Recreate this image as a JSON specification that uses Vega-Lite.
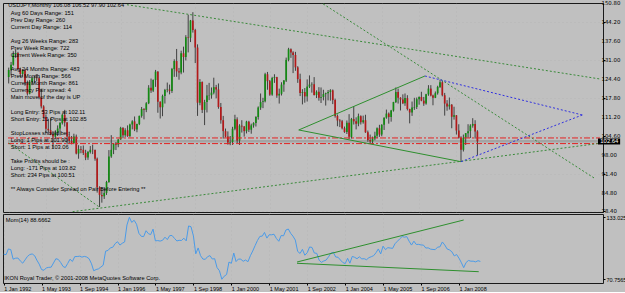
{
"$schema": "https://vega.github.io/schema/vega-lite/v6.json",
"background": "#c0c0c0",
"padding": {"left": 1, "top": 0, "right": 0, "bottom": 0},
"spacing": 2,
"bounds": "flush",
"config": {
  "font": "Liberation Sans",
  "view": {"stroke": "#1a1a1a", "strokeWidth": 1, "fill": "#c0c0c0"},
  "axis": {"labelColor": "#000", "tickColor": "#000", "gridColor": "#a0a0a0", "gridDash": [1, 3], "gridOpacity": 0.35, "labelFont": "Liberation Sans", "labelOverlap": false, "labelFlush": false, "labelBound": false}
},
"datasets": {
  "bars": [
{"d":"1992-01-01","o":125.0,"h":128.3,"l":122.8,"c":127.5,"m":95.9},
{"d":"1992-02-01","o":127.5,"h":130.3,"l":125.6,"c":129.3,"m":95.5},
{"d":"1992-03-01","o":129.3,"h":134.0,"l":129.0,"c":133.0,"m":101.2},
{"d":"1992-04-01","o":133.0,"h":134.6,"l":131.7,"c":133.4,"m":100.5},
{"d":"1992-05-01","o":133.4,"h":133.8,"l":127.5,"c":127.8,"m":90.9},
{"d":"1992-06-01","o":127.8,"h":128.3,"l":125.0,"c":126.1,"m":91.9},
{"d":"1992-07-01","o":126.1,"h":127.8,"l":124.9,"c":127.4,"m":92.1},
{"d":"1992-08-01","o":127.4,"h":127.8,"l":122.0,"c":123.0,"m":89.2},
{"d":"1992-09-01","o":123.0,"h":123.8,"l":118.6,"c":119.3,"m":86.9},
{"d":"1992-10-01","o":119.3,"h":124.0,"l":119.0,"c":123.4,"m":90.2},
{"d":"1992-11-01","o":123.4,"h":125.0,"l":122.2,"c":124.6,"m":93.7},
{"d":"1992-12-01","o":124.6,"h":125.4,"l":122.9,"c":124.8,"m":95.6},
{"d":"1993-01-01","o":124.8,"h":126.0,"l":123.5,"c":124.6,"m":96.2},
{"d":"1993-02-01","o":124.6,"h":125.1,"l":117.3,"c":117.9,"m":94.4},
{"d":"1993-03-01","o":117.9,"h":121.0,"l":114.1,"c":114.8,"m":90.0},
{"d":"1993-04-01","o":114.8,"h":115.2,"l":110.5,"c":111.1,"m":85.9},
{"d":"1993-05-01","o":111.1,"h":112.0,"l":105.5,"c":107.0,"m":80.5},
{"d":"1993-06-01","o":107.0,"h":110.5,"l":105.7,"c":106.5,"m":79.8},
{"d":"1993-07-01","o":106.5,"h":110.7,"l":104.8,"c":105.0,"m":82.2},
{"d":"1993-08-01","o":105.0,"h":106.2,"l":100.4,"c":104.3,"m":82.7},
{"d":"1993-09-01","o":104.3,"h":106.5,"l":103.7,"c":105.6,"m":82.9},
{"d":"1993-10-01","o":105.6,"h":108.2,"l":104.5,"c":107.1,"m":87.1},
{"d":"1993-11-01","o":107.1,"h":109.4,"l":104.7,"c":109.0,"m":91.4},
{"d":"1993-12-01","o":109.0,"h":112.2,"l":108.5,"c":111.9,"m":90.7},
{"d":"1994-01-01","o":111.9,"h":113.6,"l":107.8,"c":109.2,"m":87.6},
{"d":"1994-02-01","o":109.2,"h":109.4,"l":101.6,"c":104.3,"m":83.6},
{"d":"1994-03-01","o":104.3,"h":106.0,"l":101.8,"c":102.8,"m":82.5},
{"d":"1994-04-01","o":102.8,"h":104.5,"l":101.6,"c":102.1,"m":86.6},
{"d":"1994-05-01","o":102.1,"h":105.3,"l":101.7,"c":104.3,"m":90.9},
{"d":"1994-06-01","o":104.3,"h":105.0,"l":98.1,"c":98.4,"m":88.6},
{"d":"1994-07-01","o":98.4,"h":101.3,"l":96.6,"c":100.0,"m":93.5},
{"d":"1994-08-01","o":100.0,"h":101.0,"l":98.5,"c":99.7,"m":93.6},
{"d":"1994-09-01","o":99.7,"h":101.2,"l":97.9,"c":98.6,"m":93.9},
{"d":"1994-10-01","o":98.6,"h":99.7,"l":96.1,"c":97.0,"m":93.0},
{"d":"1994-11-01","o":97.0,"h":99.3,"l":96.2,"c":98.9,"m":93.7},
{"d":"1994-12-01","o":98.9,"h":101.0,"l":98.4,"c":99.7,"m":93.1},
{"d":"1995-01-01","o":99.7,"h":101.5,"l":98.2,"c":99.6,"m":91.4},
{"d":"1995-02-01","o":99.6,"h":99.8,"l":95.9,"c":96.6,"m":86.3},
{"d":"1995-03-01","o":96.6,"h":97.0,"l":84.8,"c":86.6,"m":79.3},
{"d":"1995-04-01","o":86.6,"h":87.0,"l":79.8,"c":84.0,"m":80.5},
{"d":"1995-05-01","o":84.0,"h":86.6,"l":81.3,"c":83.5,"m":81.2},
{"d":"1995-06-01","o":83.5,"h":86.7,"l":82.6,"c":84.7,"m":83.0},
{"d":"1995-07-01","o":84.7,"h":88.9,"l":84.0,"c":88.5,"m":84.9},
{"d":"1995-08-01","o":88.5,"h":99.6,"l":88.2,"c":97.4,"m":99.0},
{"d":"1995-09-01","o":97.4,"h":104.8,"l":96.9,"c":99.7,"m":99.7},
{"d":"1995-10-01","o":99.7,"h":102.0,"l":98.2,"c":101.9,"m":102.3},
{"d":"1995-11-01","o":101.9,"h":102.4,"l":99.6,"c":101.5,"m":102.9},
{"d":"1995-12-01","o":101.5,"h":103.5,"l":100.6,"c":103.3,"m":106.5},
{"d":"1996-01-01","o":103.3,"h":107.7,"l":103.2,"c":107.3,"m":108.5},
{"d":"1996-02-01","o":107.3,"h":107.6,"l":103.7,"c":104.8,"m":105.1},
{"d":"1996-03-01","o":104.8,"h":107.2,"l":104.2,"c":106.5,"m":106.9},
{"d":"1996-04-01","o":106.5,"h":108.2,"l":104.2,"c":104.5,"m":108.2},
{"d":"1996-05-01","o":104.5,"h":108.8,"l":104.1,"c":108.5,"m":125.3},
{"d":"1996-06-01","o":108.5,"h":110.0,"l":106.8,"c":109.6,"m":133.0},
{"d":"1996-07-01","o":109.6,"h":111.3,"l":106.2,"c":106.8,"m":127.9},
{"d":"1996-08-01","o":106.8,"h":108.8,"l":105.8,"c":108.7,"m":130.0},
{"d":"1996-09-01","o":108.7,"h":111.6,"l":108.3,"c":111.5,"m":126.0},
{"d":"1996-10-01","o":111.5,"h":114.6,"l":110.9,"c":113.9,"m":116.9},
{"d":"1996-11-01","o":113.9,"h":114.2,"l":110.3,"c":113.6,"m":113.9},
{"d":"1996-12-01","o":113.6,"h":116.3,"l":112.8,"c":115.9,"m":113.6},
{"d":"1997-01-01","o":115.9,"h":122.2,"l":115.6,"c":121.3,"m":119.5},
{"d":"1997-02-01","o":121.3,"h":124.5,"l":119.5,"c":120.3,"m":116.5},
{"d":"1997-03-01","o":120.3,"h":124.2,"l":119.8,"c":124.0,"m":115.6},
{"d":"1997-04-01","o":124.0,"h":127.5,"l":121.6,"c":126.9,"m":121.1},
{"d":"1997-05-01","o":126.9,"h":127.1,"l":112.6,"c":116.4,"m":109.3},
{"d":"1997-06-01","o":116.4,"h":116.6,"l":110.6,"c":114.5,"m":109.6},
{"d":"1997-07-01","o":114.5,"h":118.9,"l":111.4,"c":118.4,"m":109.1},
{"d":"1997-08-01","o":118.4,"h":120.9,"l":115.8,"c":120.5,"m":109.9},
{"d":"1997-09-01","o":120.5,"h":123.1,"l":119.7,"c":120.7,"m":113.0},
{"d":"1997-10-01","o":120.7,"h":122.4,"l":119.0,"c":120.2,"m":110.6},
{"d":"1997-11-01","o":120.2,"h":128.2,"l":119.5,"c":127.8,"m":114.6},
{"d":"1997-12-01","o":127.8,"h":131.2,"l":125.1,"c":130.6,"m":114.7},
{"d":"1998-01-01","o":130.6,"h":134.8,"l":125.1,"c":127.0,"m":111.8},
{"d":"1998-02-01","o":127.0,"h":128.2,"l":124.1,"c":126.6,"m":109.2},
{"d":"1998-03-01","o":126.6,"h":134.2,"l":126.0,"c":133.3,"m":109.9},
{"d":"1998-04-01","o":133.3,"h":135.6,"l":126.6,"c":132.0,"m":109.7},
{"d":"1998-05-01","o":132.0,"h":139.6,"l":130.8,"c":138.9,"m":112.0},
{"d":"1998-06-01","o":138.9,"h":146.7,"l":133.6,"c":138.7,"m":109.3},
{"d":"1998-07-01","o":138.7,"h":144.9,"l":137.2,"c":144.7,"m":124.3},
{"d":"1998-08-01","o":144.7,"h":147.6,"l":140.5,"c":141.4,"m":123.5},
{"d":"1998-09-01","o":141.4,"h":141.8,"l":129.9,"c":135.3,"m":114.3},
{"d":"1998-10-01","o":135.3,"h":136.4,"l":111.5,"c":116.1,"m":96.3},
{"d":"1998-11-01","o":116.1,"h":124.3,"l":115.2,"c":123.3,"m":102.2},
{"d":"1998-12-01","o":123.3,"h":123.5,"l":112.5,"c":113.6,"m":94.5},
{"d":"1999-01-01","o":113.6,"h":117.1,"l":108.3,"c":116.3,"m":91.0},
{"d":"1999-02-01","o":116.3,"h":122.3,"l":112.7,"c":118.6,"m":90.8},
{"d":"1999-03-01","o":118.6,"h":123.0,"l":117.0,"c":118.7,"m":93.4},
{"d":"1999-04-01","o":118.7,"h":121.4,"l":117.5,"c":119.6,"m":94.5},
{"d":"1999-05-01","o":119.6,"h":124.8,"l":119.0,"c":121.5,"m":91.1},
{"d":"1999-06-01","o":121.5,"h":122.3,"l":117.6,"c":120.7,"m":91.4},
{"d":"1999-07-01","o":120.7,"h":122.8,"l":114.0,"c":114.6,"m":82.5},
{"d":"1999-08-01","o":114.6,"h":116.0,"l":108.8,"c":110.0,"m":79.3},
{"d":"1999-09-01","o":110.0,"h":111.5,"l":103.6,"c":106.2,"m":70.76},
{"d":"1999-10-01","o":106.2,"h":107.1,"l":104.0,"c":104.3,"m":73.8},
{"d":"1999-11-01","o":104.3,"h":106.1,"l":101.5,"c":102.2,"m":75.5},
{"d":"1999-12-01","o":102.2,"h":104.5,"l":101.3,"c":102.4,"m":88.0},
{"d":"2000-01-01","o":102.4,"h":107.7,"l":101.4,"c":107.0,"m":86.8},
{"d":"2000-02-01","o":107.0,"h":111.9,"l":106.5,"c":110.3,"m":97.1},
{"d":"2000-03-01","o":110.3,"h":111.0,"l":102.0,"c":102.9,"m":88.5},
{"d":"2000-04-01","o":102.9,"h":108.6,"l":101.4,"c":108.1,"m":91.1},
{"d":"2000-05-01","o":108.1,"h":110.0,"l":105.7,"c":107.8,"m":90.9},
{"d":"2000-06-01","o":107.8,"h":108.0,"l":104.3,"c":106.2,"m":88.8},
{"d":"2000-07-01","o":106.2,"h":109.8,"l":105.4,"c":109.5,"m":90.1},
{"d":"2000-08-01","o":109.5,"h":109.8,"l":105.9,"c":106.7,"m":88.4},
{"d":"2000-09-01","o":106.7,"h":108.8,"l":105.3,"c":108.2,"m":94.4},
{"d":"2000-10-01","o":108.2,"h":109.3,"l":107.4,"c":109.0,"m":99.1},
{"d":"2000-11-01","o":109.0,"h":111.4,"l":107.8,"c":111.1,"m":104.6},
{"d":"2000-12-01","o":111.1,"h":114.8,"l":110.2,"c":114.4,"m":109.7},
{"d":"2001-01-01","o":114.4,"h":119.3,"l":113.6,"c":116.3,"m":113.8},
{"d":"2001-02-01","o":116.3,"h":117.8,"l":114.2,"c":116.6,"m":114.1},
{"d":"2001-03-01","o":116.6,"h":126.5,"l":116.2,"c":126.0,"m":117.8},
{"d":"2001-04-01","o":126.0,"h":126.8,"l":120.6,"c":123.6,"m":112.1},
{"d":"2001-05-01","o":123.6,"h":124.0,"l":118.5,"c":118.9,"m":115.5},
{"d":"2001-06-01","o":118.9,"h":125.1,"l":118.5,"c":124.7,"m":115.4},
{"d":"2001-07-01","o":124.7,"h":126.0,"l":123.0,"c":125.0,"m":116.0},
{"d":"2001-08-01","o":125.0,"h":125.1,"l":117.8,"c":118.6,"m":111.7},
{"d":"2001-09-01","o":118.6,"h":121.0,"l":115.8,"c":119.2,"m":108.9},
{"d":"2001-10-01","o":119.2,"h":123.2,"l":118.6,"c":122.4,"m":114.7},
{"d":"2001-11-01","o":122.4,"h":124.0,"l":119.9,"c":123.8,"m":114.4},
{"d":"2001-12-01","o":123.8,"h":131.8,"l":123.3,"c":131.0,"m":120.2},
{"d":"2002-01-01","o":131.0,"h":135.2,"l":130.5,"c":134.7,"m":121.2},
{"d":"2002-02-01","o":134.7,"h":135.0,"l":131.7,"c":133.6,"m":116.8},
{"d":"2002-03-01","o":133.6,"h":134.0,"l":126.4,"c":132.7,"m":114.1},
{"d":"2002-04-01","o":132.7,"h":133.8,"l":127.2,"c":128.4,"m":110.1},
{"d":"2002-05-01","o":128.4,"h":128.8,"l":123.0,"c":124.3,"m":98.7},
{"d":"2002-06-01","o":124.3,"h":126.2,"l":118.4,"c":119.5,"m":96.7},
{"d":"2002-07-01","o":119.5,"h":120.8,"l":115.5,"c":119.8,"m":100.8},
{"d":"2002-08-01","o":119.8,"h":121.2,"l":116.1,"c":118.3,"m":94.9},
{"d":"2002-09-01","o":118.3,"h":124.2,"l":116.5,"c":121.7,"m":97.4},
{"d":"2002-10-01","o":121.7,"h":125.6,"l":121.2,"c":122.4,"m":103.2},
{"d":"2002-11-01","o":122.4,"h":123.2,"l":119.6,"c":122.5,"m":102.7},
{"d":"2002-12-01","o":122.5,"h":125.0,"l":118.6,"c":118.8,"m":97.1},
{"d":"2003-01-01","o":118.8,"h":120.4,"l":117.7,"c":119.9,"m":96.8},
{"d":"2003-02-01","o":119.9,"h":121.5,"l":116.8,"c":117.8,"m":89.9},
{"d":"2003-03-01","o":117.8,"h":121.4,"l":116.0,"c":118.1,"m":87.7},
{"d":"2003-04-01","o":118.1,"h":120.6,"l":116.9,"c":119.1,"m":89.1},
{"d":"2003-05-01","o":119.1,"h":119.6,"l":115.1,"c":119.4,"m":90.0},
{"d":"2003-06-01","o":119.4,"h":120.5,"l":116.9,"c":119.8,"m":93.3},
{"d":"2003-07-01","o":119.8,"h":120.8,"l":116.8,"c":120.4,"m":96.9},
{"d":"2003-08-01","o":120.4,"h":120.7,"l":115.6,"c":117.0,"m":97.9},
{"d":"2003-09-01","o":117.0,"h":117.5,"l":110.9,"c":111.5,"m":93.1},
{"d":"2003-10-01","o":111.5,"h":112.0,"l":107.9,"c":109.9,"m":92.9},
{"d":"2003-11-01","o":109.9,"h":110.4,"l":107.6,"c":109.6,"m":90.1},
{"d":"2003-12-01","o":109.6,"h":110.1,"l":106.8,"c":107.2,"m":87.6},
{"d":"2004-01-01","o":107.2,"h":107.8,"l":105.6,"c":105.9,"m":86.5},
{"d":"2004-02-01","o":105.9,"h":109.9,"l":105.2,"c":109.1,"m":91.8},
{"d":"2004-03-01","o":109.1,"h":112.1,"l":103.4,"c":104.2,"m":86.9},
{"d":"2004-04-01","o":104.2,"h":110.8,"l":103.6,"c":110.4,"m":93.7},
{"d":"2004-05-01","o":110.4,"h":114.9,"l":108.5,"c":109.6,"m":92.8},
{"d":"2004-06-01","o":109.6,"h":111.0,"l":106.8,"c":108.8,"m":91.4},
{"d":"2004-07-01","o":108.8,"h":112.3,"l":107.9,"c":111.4,"m":93.3},
{"d":"2004-08-01","o":111.4,"h":111.7,"l":108.5,"c":109.3,"m":91.2},
{"d":"2004-09-01","o":109.3,"h":111.6,"l":108.8,"c":110.0,"m":91.4},
{"d":"2004-10-01","o":110.0,"h":111.9,"l":105.6,"c":105.8,"m":90.4},
{"d":"2004-11-01","o":105.8,"h":106.4,"l":102.5,"c":103.1,"m":92.5},
{"d":"2004-12-01","o":103.1,"h":105.0,"l":101.8,"c":102.6,"m":93.4},
{"d":"2005-01-01","o":102.6,"h":104.3,"l":101.7,"c":103.6,"m":94.5},
{"d":"2005-02-01","o":103.6,"h":106.0,"l":103.0,"c":104.6,"m":97.6},
{"d":"2005-03-01","o":104.6,"h":107.5,"l":103.8,"c":107.2,"m":101.2},
{"d":"2005-04-01","o":107.2,"h":108.4,"l":104.2,"c":105.0,"m":96.2},
{"d":"2005-05-01","o":105.0,"h":108.6,"l":104.4,"c":108.4,"m":104.0},
{"d":"2005-06-01","o":108.4,"h":111.0,"l":106.6,"c":110.9,"m":100.5},
{"d":"2005-07-01","o":110.9,"h":113.7,"l":110.5,"c":112.3,"m":102.5},
{"d":"2005-08-01","o":112.3,"h":112.7,"l":108.8,"c":111.1,"m":102.1},
{"d":"2005-09-01","o":111.1,"h":113.6,"l":109.5,"c":113.4,"m":101.8},
{"d":"2005-10-01","o":113.4,"h":116.4,"l":113.0,"c":116.3,"m":106.4},
{"d":"2005-11-01","o":116.3,"h":121.4,"l":116.0,"c":119.8,"m":108.9},
{"d":"2005-12-01","o":119.8,"h":121.0,"l":115.8,"c":117.8,"m":111.3},
{"d":"2006-01-01","o":117.8,"h":118.0,"l":113.4,"c":117.2,"m":113.7},
{"d":"2006-02-01","o":117.2,"h":119.0,"l":115.6,"c":115.9,"m":113.0},
{"d":"2006-03-01","o":115.9,"h":119.3,"l":115.0,"c":117.7,"m":113.6},
{"d":"2006-04-01","o":117.7,"h":118.7,"l":113.4,"c":113.9,"m":108.9},
{"d":"2006-05-01","o":113.9,"h":114.0,"l":108.9,"c":112.7,"m":105.1},
{"d":"2006-06-01","o":112.7,"h":116.5,"l":111.5,"c":114.4,"m":109.0},
{"d":"2006-07-01","o":114.4,"h":117.8,"l":113.6,"c":114.6,"m":105.7},
{"d":"2006-08-01","o":114.6,"h":117.9,"l":113.9,"c":117.3,"m":105.8},
{"d":"2006-09-01","o":117.3,"h":118.3,"l":115.4,"c":118.1,"m":105.2},
{"d":"2006-10-01","o":118.1,"h":119.9,"l":116.6,"c":116.8,"m":105.1},
{"d":"2006-11-01","o":116.8,"h":118.1,"l":115.0,"c":115.8,"m":102.1},
{"d":"2006-12-01","o":115.8,"h":119.2,"l":115.4,"c":119.0,"m":102.3},
{"d":"2007-01-01","o":119.0,"h":122.2,"l":118.5,"c":121.0,"m":101.0},
{"d":"2007-02-01","o":121.0,"h":122.2,"l":118.3,"c":118.6,"m":100.7},
{"d":"2007-03-01","o":118.6,"h":118.9,"l":115.2,"c":117.8,"m":100.5},
{"d":"2007-04-01","o":117.8,"h":120.0,"l":117.7,"c":119.4,"m":103.0},
{"d":"2007-05-01","o":119.4,"h":122.0,"l":118.9,"c":121.6,"m":103.3},
{"d":"2007-06-01","o":121.6,"h":124.1,"l":121.2,"c":123.2,"m":108.2},
{"d":"2007-07-01","o":123.2,"h":123.7,"l":118.3,"c":118.7,"m":105.3},
{"d":"2007-08-01","o":118.7,"h":119.5,"l":111.6,"c":115.8,"m":101.2},
{"d":"2007-09-01","o":115.8,"h":117.0,"l":113.3,"c":114.8,"m":100.2},
{"d":"2007-10-01","o":114.8,"h":117.9,"l":113.7,"c":115.4,"m":98.4},
{"d":"2007-11-01","o":115.4,"h":115.6,"l":107.2,"c":111.2,"m":94.2},
{"d":"2007-12-01","o":111.2,"h":114.7,"l":110.2,"c":111.7,"m":95.6},
{"d":"2008-01-01","o":111.7,"h":111.8,"l":105.0,"c":106.4,"m":91.9},
{"d":"2008-02-01","o":106.4,"h":108.6,"l":103.6,"c":103.9,"m":87.3},
{"d":"2008-03-01","o":103.9,"h":104.4,"l":95.7,"c":99.7,"m":82.4},
{"d":"2008-04-01","o":99.7,"h":105.0,"l":99.1,"c":103.9,"m":87.6},
{"d":"2008-05-01","o":103.9,"h":105.5,"l":101.4,"c":105.5,"m":89.6},
{"d":"2008-06-01","o":105.5,"h":108.6,"l":103.9,"c":106.2,"m":88.9},
{"d":"2008-07-01","o":106.2,"h":108.6,"l":103.8,"c":108.1,"m":88.9},
{"d":"2008-08-01","o":108.1,"h":110.7,"l":107.4,"c":108.7,"m":88.2},
{"d":"2008-09-01","o":108.7,"h":110.0,"l":103.6,"c":106.1,"m":89.4},
{"d":"2008-10-01","o":106.08,"h":106.52,"l":97.9,"c":102.64,"m":88.67}
  ],
  "bid": [{"id":"bid","d":"1991-12-23","p":102.64},{"id":"bid","d":"2013-02-17","p":102.64}],
  "red": [
    {"id":"tp","d":"1991-12-23","p":103.82},{"id":"tp","d":"2013-02-17","p":103.82},
    {"id":"sl","d":"1991-12-23","p":101.86},{"id":"sl","d":"2013-02-17","p":101.86}
  ],
  "dots": [
    {"id":"a","d":"1996-03-24","p":150.21},{"id":"a","d":"2013-02-17","p":124.35},
    {"id":"b","d":"2003-02-12","p":151.25},{"id":"b","d":"2012-12-02","p":89.89},
    {"id":"c","d":"1994-04-14","p":78.16},{"id":"c","d":"2013-02-17","p":101.97},
    {"id":"e","d":"1992-01-01","p":102.07},{"id":"e","d":"1995-04-06","p":79.62}
  ],
  "solid": [
    {"id":"u","d":"2002-05-14","p":106.6},{"id":"u","d":"2006-11-16","p":125.39},
    {"id":"w","d":"2002-05-14","p":106.6},{"id":"w","d":"2008-03-01","p":95.56}
  ],
  "blue": [
    {"id":"u","d":"2006-11-16","p":125.39},{"id":"u","d":"2012-07-01","p":111.82},
    {"id":"w","d":"2008-03-01","p":95.56},{"id":"w","d":"2012-07-01","p":111.82}
  ],
  "ylab": [
    {"d":"2013-03-08","p":150.8,"t":"150.80"},
    {"d":"2013-03-08","p":144.2,"t":"144.20"},
    {"d":"2013-03-08","p":137.6,"t":"137.60"},
    {"d":"2013-03-08","p":131.0,"t":"131.00"},
    {"d":"2013-03-08","p":124.4,"t":"124.40"},
    {"d":"2013-03-08","p":117.8,"t":"117.80"},
    {"d":"2013-03-08","p":111.2,"t":"111.20"},
    {"d":"2013-03-08","p":104.6,"t":"104.60"},
    {"d":"2013-03-08","p":98.0,"t":"98.00"},
    {"d":"2013-03-08","p":91.4,"t":"91.40"},
    {"d":"2013-03-08","p":84.8,"t":"84.80"},
    {"d":"2013-03-08","p":78.4,"t":"78.40"}
  ],
  "notes": [
    {"d":"1991-12-26","p":149.93,"t":"USDJPY,Monthly  106.08 106.52 97.90 102.64"},
    {"d":"1992-01-28","p":147.47,"t":"Avg 60 Days Range: 151"},
    {"d":"1992-01-28","p":145.01,"t":"Prev Day Range: 260"},
    {"d":"1992-01-28","p":142.55,"t":"Current Day Range: 114"},
    {"d":"1992-01-28","p":137.63,"t":"Avg 26 Weeks Range: 283"},
    {"d":"1992-01-28","p":135.16,"t":"Prev Week Range: 722"},
    {"d":"1992-01-28","p":132.70,"t":"Current Week Range: 350"},
    {"d":"1992-01-28","p":127.78,"t":"Avg 24 Months Range: 483"},
    {"d":"1992-01-28","p":125.32,"t":"Prev Month Range: 566"},
    {"d":"1992-01-28","p":122.86,"t":"Current Month Range: 861"},
    {"d":"1992-01-28","p":120.40,"t":"Currency Pair spread: 4"},
    {"d":"1992-01-28","p":117.94,"t":"Main move of the day is UP"},
    {"d":"1992-01-28","p":113.02,"t":"Long Entry: 53 Pips at 102.11"},
    {"d":"1992-01-28","p":110.56,"t":"Short Entry: 21 Pips at 102.85"},
    {"d":"1992-01-28","p":105.64,"t":"StopLosses should be :"},
    {"d":"1992-01-28","p":103.17,"t":"Long: 1 Pips at 101.90"},
    {"d":"1992-01-28","p":100.71,"t":"Short: 1 Pips at 103.06"},
    {"d":"1992-01-28","p":95.79,"t":"Take Profits should be :"},
    {"d":"1992-01-28","p":93.33,"t":"Long: -171 Pips at 103.82"},
    {"d":"1992-01-28","p":90.87,"t":"Short: 234 Pips at 100.51"},
    {"d":"1992-01-28","p":85.95,"t":"** Always Consider Spread on Pair Before Entering **"}
  ],
  "box": [{"d":"2013-01-22","d2":"2013-11-07","p":103.64,"p2":101.55,"dt":"2013-06-19","pt":102.64,"t":"102.64"}],
  "mlines": [
    {"id":"u","d":"2002-04-23","v":88.09},{"id":"u","d":"2008-03-01","v":130.27},
    {"id":"w","d":"2002-04-23","v":86.79},{"id":"w","d":"2008-09-10","v":78.35}
  ],
  "mnotes": [
    {"d":"1992-01-28","v":129.8,"t":"Mom(14) 88.6662"},
    {"d":"1992-01-07","v":72.3,"t":"IKON Royal Trader, © 2001-2008 MetaQuotes Software Corp."}
  ]
},
"vconcat": [
  {
    "width": 600,
    "height": 209,
    "layer": [
      {
        "data": {"name": "bid"},
        "mark": {"type": "line", "color": "#a4a4a4", "strokeWidth": 2.5, "clip": true},
        "encoding": {
          "x": {"field": "d", "type": "temporal", "title": null,
                "scale": {"type": "utc", "nice": false, "domain": [{"year":1991,"month":12,"date":23,"utc":true},{"year":2013,"month":1,"date":22,"utc":true}]},
                "axis": {"values": [{"year":1992,"month":1,"date":1,"utc":true},{"year":1993,"month":5,"date":1,"utc":true},{"year":1994,"month":9,"date":1,"utc":true},{"year":1996,"month":1,"date":1,"utc":true},{"year":1997,"month":5,"date":1,"utc":true},{"year":1998,"month":9,"date":1,"utc":true},{"year":2000,"month":1,"date":1,"utc":true},{"year":2001,"month":5,"date":1,"utc":true},{"year":2002,"month":9,"date":1,"utc":true},{"year":2004,"month":1,"date":1,"utc":true},{"year":2005,"month":5,"date":1,"utc":true},{"year":2006,"month":9,"date":1,"utc":true},{"year":2008,"month":1,"date":1,"utc":true}],
                         "labels": false, "ticks": false, "domain": false, "grid": true}},
          "y": {"field": "p", "type": "quantitative", "title": null,
                "scale": {"domain": [78.05, 150.8], "nice": false, "zero": false},
                "axis": {"orient": "right", "values": [150.8,144.2,137.6,131,124.4,117.8,111.2,104.6,98,91.4,84.8,78.4],
                         "grid": true, "domain": false, "tickSize": 2, "labels": false}},
          "detail": {"field": "id"}
        }
      },
      {
        "data": {"name": "bars"},
        "mark": {"type": "rule", "color": "#404040", "strokeWidth": 1},
        "encoding": {
          "x": {"field": "d", "type": "temporal", "title": null, "scale": {"type": "utc", "nice": false, "domain": [{"year":1991,"month":12,"date":23,"utc":true},{"year":2013,"month":1,"date":22,"utc":true}]}},
          "y": {"field": "l", "type": "quantitative", "title": null, "scale": {"domain": [78.05, 150.8], "nice": false, "zero": false}},
          "y2": {"field": "h"}
        }
      },
      {
        "data": {"name": "bars"},
        "mark": {"type": "bar", "width": 1.7},
        "encoding": {
          "x": {"field": "d", "type": "temporal", "title": null, "scale": {"type": "utc", "nice": false, "domain": [{"year":1991,"month":12,"date":23,"utc":true},{"year":2013,"month":1,"date":22,"utc":true}]}},
          "y": {"field": "o", "type": "quantitative", "title": null, "scale": {"domain": [78.05, 150.8], "nice": false, "zero": false}},
          "y2": {"field": "c"},
          "color": {"condition": {"test": "datum.c >= datum.o", "value": "#138a13"}, "value": "#b3191a"}
        }
      },
      {
        "data": {"name": "red"},
        "mark": {"type": "line", "color": "#e32222", "strokeWidth": 1, "strokeDash": [6, 2, 2, 2], "clip": true},
        "encoding": {
          "x": {"field": "d", "type": "temporal", "title": null, "scale": {"type": "utc", "nice": false, "domain": [{"year":1991,"month":12,"date":23,"utc":true},{"year":2013,"month":1,"date":22,"utc":true}]}},
          "y": {"field": "p", "type": "quantitative", "title": null, "scale": {"domain": [78.05, 150.8], "nice": false, "zero": false}},
          "detail": {"field": "id"}
        }
      },
      {
        "data": {"name": "dots"},
        "mark": {"type": "line", "color": "#3a8a3a", "strokeWidth": 1, "strokeDash": [2, 2], "clip": true},
        "encoding": {
          "x": {"field": "d", "type": "temporal", "title": null, "scale": {"type": "utc", "nice": false, "domain": [{"year":1991,"month":12,"date":23,"utc":true},{"year":2013,"month":1,"date":22,"utc":true}]}},
          "y": {"field": "p", "type": "quantitative", "title": null, "scale": {"domain": [78.05, 150.8], "nice": false, "zero": false}},
          "detail": {"field": "id"}
        }
      },
      {
        "data": {"name": "solid"},
        "mark": {"type": "line", "color": "#2e8f2e", "strokeWidth": 1, "clip": true},
        "encoding": {
          "x": {"field": "d", "type": "temporal", "title": null, "scale": {"type": "utc", "nice": false, "domain": [{"year":1991,"month":12,"date":23,"utc":true},{"year":2013,"month":1,"date":22,"utc":true}]}},
          "y": {"field": "p", "type": "quantitative", "title": null, "scale": {"domain": [78.05, 150.8], "nice": false, "zero": false}},
          "detail": {"field": "id"}
        }
      },
      {
        "data": {"name": "blue"},
        "mark": {"type": "line", "color": "#3030e0", "strokeWidth": 1, "strokeDash": [2, 2], "clip": true},
        "encoding": {
          "x": {"field": "d", "type": "temporal", "title": null, "scale": {"type": "utc", "nice": false, "domain": [{"year":1991,"month":12,"date":23,"utc":true},{"year":2013,"month":1,"date":22,"utc":true}]}},
          "y": {"field": "p", "type": "quantitative", "title": null, "scale": {"domain": [78.05, 150.8], "nice": false, "zero": false}},
          "detail": {"field": "id"}
        }
      },
      {
        "data": {"name": "notes"},
        "mark": {"type": "text", "align": "left", "baseline": "middle", "fontSize": 5.7, "color": "#000", "font": "Liberation Sans"},
        "encoding": {
          "x": {"field": "d", "type": "temporal", "title": null, "scale": {"type": "utc", "nice": false, "domain": [{"year":1991,"month":12,"date":23,"utc":true},{"year":2013,"month":1,"date":22,"utc":true}]}},
          "y": {"field": "p", "type": "quantitative", "title": null, "scale": {"domain": [78.05, 150.8], "nice": false, "zero": false}},
          "text": {"field": "t"}
        }
      },
      {
        "data": {"name": "ylab"},
        "mark": {"type": "text", "align": "left", "baseline": "middle", "fontSize": 5.4, "color": "#000", "font": "DejaVu Sans"},
        "encoding": {
          "x": {"field": "d", "type": "temporal", "title": null, "scale": {"type": "utc", "nice": false, "domain": [{"year":1991,"month":12,"date":23,"utc":true},{"year":2013,"month":1,"date":22,"utc":true}]}},
          "y": {"field": "p", "type": "quantitative", "title": null, "scale": {"domain": [78.05, 150.8], "nice": false, "zero": false}},
          "text": {"field": "t"}
        }
      },
      {
        "data": {"name": "box"},
        "mark": {"type": "rect", "color": "#000"},
        "encoding": {
          "x": {"field": "d", "type": "temporal", "title": null, "scale": {"type": "utc", "nice": false, "domain": [{"year":1991,"month":12,"date":23,"utc":true},{"year":2013,"month":1,"date":22,"utc":true}]}},
          "x2": {"field": "d2"},
          "y": {"field": "p", "type": "quantitative", "title": null, "scale": {"domain": [78.05, 150.8], "nice": false, "zero": false}},
          "y2": {"field": "p2"}
        }
      },
      {
        "data": {"name": "box"},
        "mark": {"type": "text", "align": "center", "baseline": "middle", "fontSize": 5.9, "color": "#ffffff"},
        "encoding": {
          "x": {"field": "dt", "type": "temporal", "title": null, "scale": {"type": "utc", "nice": false, "domain": [{"year":1991,"month":12,"date":23,"utc":true},{"year":2013,"month":1,"date":22,"utc":true}]}},
          "y": {"field": "pt", "type": "quantitative", "title": null, "scale": {"domain": [78.05, 150.8], "nice": false, "zero": false}},
          "text": {"field": "t"}
        }
      }
    ]
  },
  {
    "width": 600,
    "height": 69,
    "layer": [
      {
        "data": {"name": "bars"},
        "mark": {"type": "line", "color": "#4b9be8", "strokeWidth": 1},
        "encoding": {
          "x": {"field": "d", "type": "temporal", "title": null,
                "scale": {"type": "utc", "nice": false, "domain": [{"year":1991,"month":12,"date":23,"utc":true},{"year":2013,"month":1,"date":22,"utc":true}]},
                "axis": {"values": [{"year":1992,"month":1,"date":1,"utc":true},{"year":1993,"month":5,"date":1,"utc":true},{"year":1994,"month":9,"date":1,"utc":true},{"year":1996,"month":1,"date":1,"utc":true},{"year":1997,"month":5,"date":1,"utc":true},{"year":1998,"month":9,"date":1,"utc":true},{"year":2000,"month":1,"date":1,"utc":true},{"year":2001,"month":5,"date":1,"utc":true},{"year":2002,"month":9,"date":1,"utc":true},{"year":2004,"month":1,"date":1,"utc":true},{"year":2005,"month":5,"date":1,"utc":true},{"year":2006,"month":9,"date":1,"utc":true},{"year":2008,"month":1,"date":1,"utc":true}],
                         "format": "%-d %b %Y", "labelAlign": "left", "labelFlush": false, "labelFontSize": 5.5, "tickSize": 2,
                         "labelPadding": 1, "labelBaseline": "top", "labelOverlap": false, "grid": true, "domain": false}},
          "y": {"field": "m", "type": "quantitative", "title": null,
                "scale": {"domain": [67.0, 136.3], "nice": false, "zero": false},
                "axis": {"orient": "right", "values": [133.025, 70.7565], "labelExpr": "'' + datum.value", "tickSize": 2, "labelPadding": 1,
                         "labelFontSize": 5.5, "labelAlign": "left", "labelBaseline": "middle", "labelOverlap": false, "labelFlush": false,
                         "grid": false, "domain": false}}
        }
      },
      {
        "data": {"name": "mlines"},
        "mark": {"type": "line", "color": "#2e8f2e", "strokeWidth": 1, "clip": true},
        "encoding": {
          "x": {"field": "d", "type": "temporal", "title": null, "scale": {"type": "utc", "nice": false, "domain": [{"year":1991,"month":12,"date":23,"utc":true},{"year":2013,"month":1,"date":22,"utc":true}]}},
          "y": {"field": "v", "type": "quantitative", "title": null, "scale": {"domain": [67.0, 136.3], "nice": false, "zero": false}},
          "detail": {"field": "id"}
        }
      },
      {
        "data": {"name": "mnotes"},
        "mark": {"type": "text", "align": "left", "baseline": "middle", "fontSize": 5.7, "color": "#000"},
        "encoding": {
          "x": {"field": "d", "type": "temporal", "title": null, "scale": {"type": "utc", "nice": false, "domain": [{"year":1991,"month":12,"date":23,"utc":true},{"year":2013,"month":1,"date":22,"utc":true}]}},
          "y": {"field": "v", "type": "quantitative", "title": null, "scale": {"domain": [67.0, 136.3], "nice": false, "zero": false}},
          "text": {"field": "t"}
        }
      }
    ]
  }
]
}
